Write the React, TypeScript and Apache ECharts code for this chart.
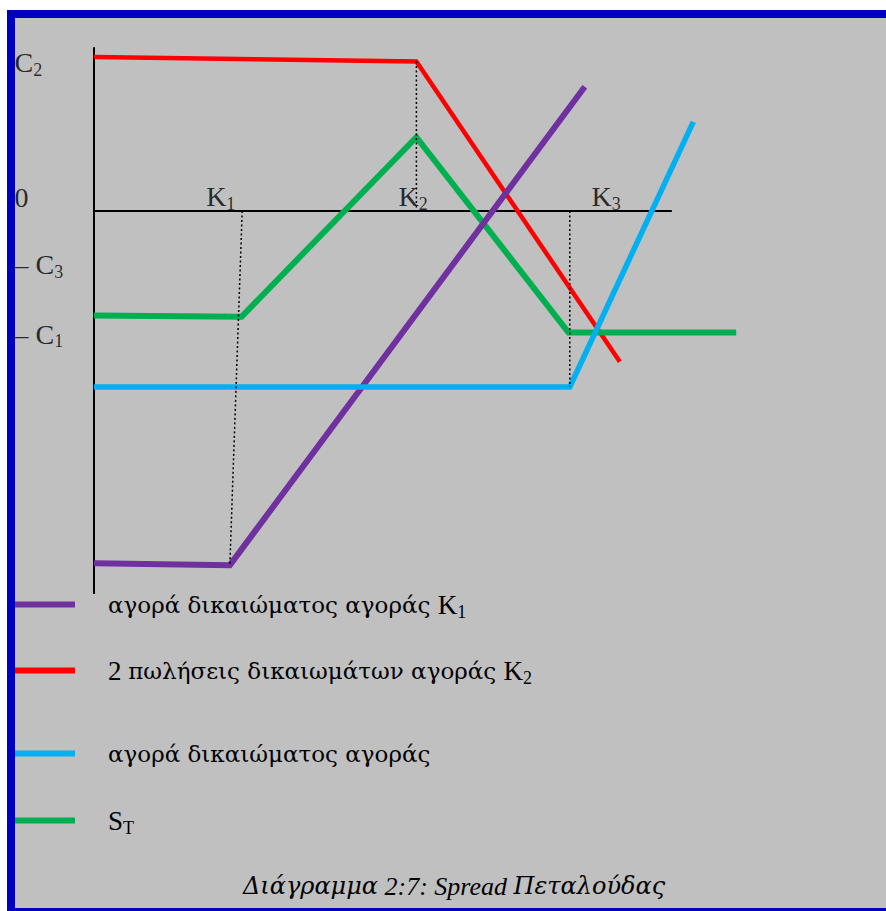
import React, { useEffect, useRef } from 'react';
import * as echarts from 'echarts';

const SERIF = 'Liberation Serif';
const GREEK = 'DejaVu Serif';

// Payoff lines, [strike-axis x, payoff y] in chart units
const longCallK1 = [[0, -78.3], [20.9, -78.7], [75.5, 27.6]];
const shortCallsK2 = [[0, 34.2], [49.6, 33.2], [80.9, -33.5]];
const longCallK3 = [[0, -39.1], [73.2, -39.1], [92.2, 19.8]];
const spreadST = [[0, -23.2], [22.7, -23.5], [49.6, 16.4], [73.0, -27.0], [98.8, -27.0]];

// Dotted guides from the strikes
const guideK1 = [[22.8, 0], [20.9, -78.7]];
const guideK2 = [[49.6, 33.2], [49.6, 0]];
const guideK3 = [[73.2, 0], [73.2, -39.1]];

// Drawn axes
const xAxisLine = [[0, 0], [88.9, 0]];
const yAxisLine = [[0, 36.4], [0, -85.1]];

// Strike labels on the horizontal axis
const strikeMain = ['K', 'K', 'K'];
const strikeSub = ['1', '2', '3'];
const strikeX = [19.5, 49.1, 78.8];
const strikeY = [3.2, 3.2, 3.2];

// Tick labels on the vertical axis
const yTickMain = ['C', '0', '– C', '– C'];
const yTickSub = ['2', '', '3', '1'];
const yTickValues = [32.9, 3.1, -11.9, -27.4];
const yTickX = -12.3;

// Legend
const seriesNames = [
  'αγορά δικαιώματος αγοράς K1',
  '2 πωλήσεις δικαιωμάτων αγοράς K2',
  'αγορά δικαιώματος αγοράς',
  'ST',
];
const legendPrefix = ['', '2 ', '', ''];
const legendGreek = [
  'αγορά δικαιώματος αγοράς ',
  'πωλήσεις δικαιωμάτων αγοράς ',
  'αγορά δικαιώματος αγοράς',
  '',
];
const legendLatin = ['K', 'K', '', 'S'];
const legendSub = ['1', '2', '', 'T'];
const legendCenters = [607, 673, 756, 823];

const captionGreek1 = 'Διάγραμμα';
const captionLatin = ' 2:7: Spread ';
const captionGreek2 = 'Πεταλούδας';

const COLORS = {
  purple: '#7030a0',
  red: '#ff0000',
  blue: '#00b0f0',
  green: '#00b050',
};

const richText = (main: string, sub: string, prefix = '') =>
  `${prefix}{m|${main}}` + (sub ? `{s|${sub}}` : '');

const labelRich = {
  m: { fontSize: 28, fontFamily: SERIF, color: '#000', lineHeight: 32 },
  s: { fontSize: 18, fontFamily: SERIF, color: '#000', lineHeight: 18, verticalAlign: 'bottom' },
};

const legendLabel = (i: number) => {
  let s = '{sp|}';
  if (legendPrefix[i]) s += `{m|${legendPrefix[i]}}`;
  if (legendGreek[i]) s += `{g|${legendGreek[i]}}`;
  if (legendLatin[i]) s += `{m|${legendLatin[i]}}`;
  if (legendSub[i]) s += `{s|${legendSub[i]}}`;
  return s;
};

export default function App() {
  const ref = useRef<HTMLDivElement>(null);

  useEffect(() => {
    document.body.style.margin = '0';
    if (!ref.current) return;
    const chart = echarts.init(ref.current, null, { renderer: 'svg' });

    const lineSeries = (name: string, data: number[][], color: string, width: number, z: number) => ({
      name,
      type: 'line',
      data,
      color,
      symbol: 'none',
      showSymbol: false,
      silent: true,
      z,
      lineStyle: { color, width, join: 'miter', cap: 'butt' },
      itemStyle: { color },
    });

    const plain = (data: number[][], width: number, dash: any, z: number) => ({
      type: 'line',
      data,
      symbol: 'none',
      showSymbol: false,
      silent: true,
      z,
      lineStyle: { color: '#000', width, type: dash, cap: 'butt' },
    });

    const option: any = {
      animation: false,
      backgroundColor: '#ffffff',
      graphic: [
        { type: 'rect', shape: { x: 7, y: 10, width: 879, height: 901 }, style: { fill: '#0000c0' }, silent: true, z: -10 },
        { type: 'rect', shape: { x: 15, y: 18, width: 871, height: 890 }, style: { fill: '#c0c0c0' }, silent: true, z: -9 },
      ],
      title: {
        text: `{g|${captionGreek1}}{l|${captionLatin}}{g|${captionGreek2}}`,
        left: 243,
        top: 871,
        padding: 0,
        textStyle: {
          fontFamily: SERIF,
          fontStyle: 'italic',
          fontWeight: 'normal',
          fontSize: 26,
          lineHeight: 30,
          color: '#000',
          rich: {
            g: { fontFamily: GREEK, fontStyle: 'italic', fontSize: 24, lineHeight: 30, color: '#000' },
            l: { fontFamily: SERIF, fontStyle: 'italic', fontSize: 26, lineHeight: 30, color: '#000' },
          },
        },
      },
      grid: { left: 3, top: 31, width: 793, height: 585 },
      xAxis: { type: 'value', min: -14, max: 108, show: false, splitLine: { show: false } },
      yAxis: { type: 'value', min: -90, max: 40, show: false, splitLine: { show: false } },
      legend: seriesNames.map((name, i) => ({
        data: [name],
        left: 15,
        top: legendCenters[i] - 16,
        padding: 0,
        icon: 'rect',
        itemWidth: 60,
        itemHeight: 6,
        selectedMode: false,
        formatter: () => legendLabel(i),
        textStyle: {
          fontFamily: SERIF,
          fontSize: 27,
          color: '#000',
          rich: {
            m: { fontSize: 27, fontFamily: SERIF, color: '#000', lineHeight: 32 },
            g: { fontSize: 23, fontFamily: GREEK, color: '#000', lineHeight: 32 },
            s: { fontSize: 18, fontFamily: SERIF, color: '#000', lineHeight: 18, verticalAlign: 'bottom' },
            sp: { width: 28, lineHeight: 32 },
          },
        },
      })),
      series: [
        plain(xAxisLine, 2, 'solid', 1),
        plain(yAxisLine, 2, 'solid', 1),
        lineSeries(seriesNames[1], shortCallsK2, COLORS.red, 4.5, 2),
        lineSeries(seriesNames[3], spreadST, COLORS.green, 6, 3),
        lineSeries(seriesNames[0], longCallK1, COLORS.purple, 6, 4),
        lineSeries(seriesNames[2], longCallK3, COLORS.blue, 5.5, 5),
        plain(guideK1, 1.5, [2, 2.5], 6),
        plain(guideK2, 1.5, [2, 2.5], 6),
        plain(guideK3, 1.5, [2, 2.5], 6),
        {
          type: 'scatter',
          silent: true,
          symbolSize: 1,
          itemStyle: { color: 'rgba(0,0,0,0)' },
          z: 7,
          data: strikeX.map((x, i) => ({
            value: [x, strikeY[i]],
            label: {
              show: true,
              position: 'inside',
              formatter: richText(strikeMain[i], strikeSub[i]),
              rich: labelRich,
            },
          })),
        },
        {
          type: 'scatter',
          silent: true,
          symbolSize: 1,
          clip: false,
          itemStyle: { color: 'rgba(0,0,0,0)' },
          z: 7,
          data: yTickValues.map((v, i) => ({
            value: [yTickX, v],
            label: {
              show: true,
              position: 'right',
              distance: 0,
              formatter: richText(yTickMain[i], yTickSub[i]),
              rich: labelRich,
            },
          })),
        },
      ],
    };

    chart.setOption(option);
    return () => chart.dispose();
  }, []);

  return <div ref={ref} style={{ width: 886, height: 911, position: 'relative' }} />;
}
